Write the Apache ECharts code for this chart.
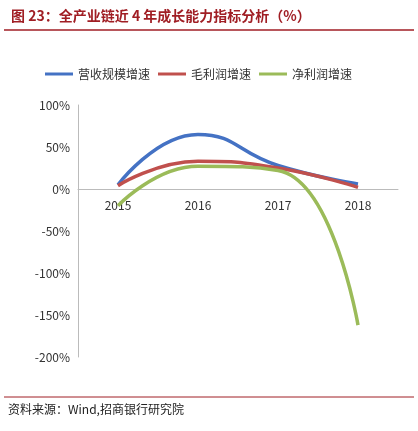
<!DOCTYPE html>
<html><head><meta charset="utf-8">
<script src="https://cdn.jsdelivr.net/npm/echarts@6/dist/echarts.min.js"></script>
<style>body{margin:0;background:#fff}#c{width:418px;height:431px}</style>
</head><body><div id="c"></div>
<script>
const categories=['2015','2016','2017','2018'];
const revenue=[5,65,28,6];
const grossProfit=[4,33,25,2];
const netProfit=[-20,27,22,-162];
const yTicks=[-200,-150,-100,-50,0,50,100];
const chart=echarts.init(document.getElementById('c'));
const ff='"Noto Sans CJK SC", sans-serif';
chart.setOption({
  animation:false,
  title:{text:'图 23：全产业链近 4 年成长能力指标分析（%）',left:6,top:4,textStyle:{color:'#A01E24',fontSize:14,fontWeight:'bold',fontFamily:ff}},
  graphic:[
    {type:'line',shape:{x1:4,y1:30,x2:414,y2:30},style:{stroke:'#A01E24',lineWidth:1.5}},
    {type:'line',shape:{x1:4,y1:397,x2:414,y2:397},style:{stroke:'#A01E24',lineWidth:1}},
    {type:'text',left:8,top:403,style:{text:'资料来源：Wind,招商银行研究院',fill:'#222',font:'12px '+ff}}
  ],
  legend:{top:63,left:40,itemWidth:28,itemHeight:3,itemGap:8,icon:'rect',textStyle:{fontSize:12,fontFamily:ff,color:'#333'}},
  grid:{left:78,right:20,top:105,bottom:74},
  xAxis:{type:'category',data:categories,boundaryGap:true,offset:-168,axisLine:{onZero:false,lineStyle:{color:'#bbb'}},axisTick:{show:false},axisLabel:{color:'#333',fontSize:12,fontFamily:ff,margin:10}},
  yAxis:{type:'value',min:-200,max:100,interval:50,axisLine:{show:true,lineStyle:{color:'#bbb'}},splitLine:{show:false},axisLabel:{formatter:v=>v+'%',color:'#333',fontSize:12,fontFamily:ff}},
  series:[
    {name:'营收规模增速',type:'line',smooth:true,data:revenue,symbol:'none',lineStyle:{width:3.5,color:'#4472C4'},itemStyle:{color:'#4472C4'}},
    {name:'毛利润增速',type:'line',smooth:true,data:grossProfit,symbol:'none',lineStyle:{width:3.5,color:'#C0504D'},itemStyle:{color:'#C0504D'}},
    {name:'净利润增速',type:'line',smooth:true,data:netProfit,symbol:'none',lineStyle:{width:3.5,color:'#9BBB59'},itemStyle:{color:'#9BBB59'}}
  ]
});
</script></body></html>
